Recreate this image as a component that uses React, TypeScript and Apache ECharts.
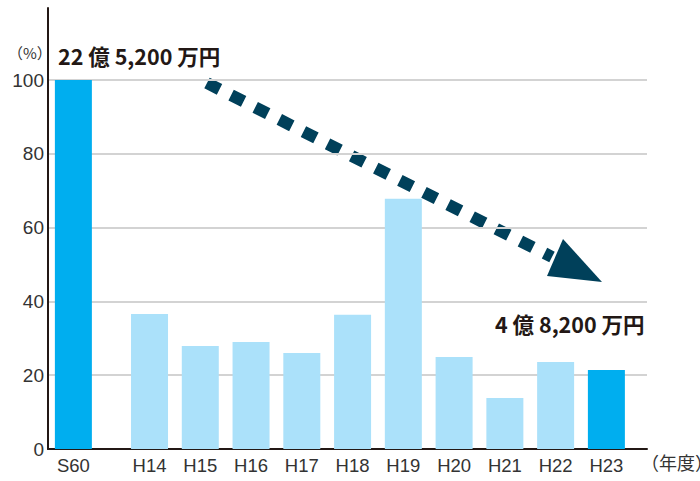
import React, { useEffect, useRef } from "react";
import * as echarts from "echarts";

const categories = ["S60", "H14", "H15", "H16", "H17", "H18", "H19", "H20", "H21", "H22", "H23"];
const values = [100, 36.6, 27.9, 29.0, 26.0, 36.4, 67.8, 24.9, 13.8, 23.6, 21.4];
const highlighted = ["S60", "H23"];
const yTicks = [0, 20, 40, 60, 80, 100];
const startLabel = "22 億 5,200 万円";
const endLabel = "4 億 8,200 万円";
const yUnit = "（%）";
const xUnit = "（年度）";

// x position of each category: S60 sits 1.5 slots before H14
const xPos = categories.map((_, i) => (i === 0 ? 0 : i + 0.5));

const FONT = "'Liberation Sans', 'Noto Sans CJK JP', sans-serif";
const JFONT = "'Noto Sans CJK JP', sans-serif";
const NAVY = "#00405a";

export default function App() {
  const ref = useRef<HTMLDivElement>(null);
  useEffect(() => {
    document.body.style.margin = "0";
    const chart = echarts.init(ref.current!, null, { renderer: "svg" });
    chart.setOption({
      animation: false,
      grid: [
        { left: 48, right: 53, top: 80, bottom: 32 },
        { left: 48, right: 53, top: 8, bottom: 32 },
      ],
      xAxis: [
        {
          type: "value",
          gridIndex: 0,
          min: -0.5,
          max: 11.3,
          interval: 0.5,
          axisLine: { show: true, onZero: false, lineStyle: { color: "#231815", width: 2 } },
          axisTick: { show: false },
          splitLine: { show: false },
          axisLabel: {
            showMaxLabel: false,
            showMinLabel: false,
            fontFamily: FONT,
            fontSize: 18.5,
            color: "#333",
            margin: 7,
            formatter: (v: number) => {
              const idx = xPos.findIndex((p) => Math.abs(p - v) < 1e-6);
              return idx >= 0 ? categories[idx] : "";
            },
          },
        },
        { type: "value", gridIndex: 1, show: false, min: 0, max: 1 },
      ],
      yAxis: [
        {
          type: "value",
          gridIndex: 0,
          min: 0,
          max: 100,
          interval: 20,
          axisLine: { show: false },
          axisTick: { show: false },
          splitLine: { show: true, lineStyle: { color: "#d3d3d3", width: 2 } },
          axisLabel: {
            fontFamily: FONT,
            fontSize: 19,
            color: "#333",
            margin: 4,
            formatter: (v: number) => (yTicks.includes(v) ? String(v) : ""),
          },
        },
        {
          type: "value",
          gridIndex: 1,
          min: 0,
          max: 1,
          axisLine: { show: true, lineStyle: { color: "#231815", width: 2 } },
          axisTick: { show: false },
          axisLabel: { show: false },
          splitLine: { show: false },
        },
      ],
      series: [
        {
          type: "bar",
          xAxisIndex: 0,
          yAxisIndex: 0,
          barWidth: 37,
          data: categories.map((c, i) => ({
            value: [xPos[i], values[i]],
            itemStyle: { color: highlighted.includes(c) ? "#00aeef" : "#abe1fa" },
          })),
        },
      ],
      graphic: [
        {
          type: "text",
          left: 8,
          top: 45,
          style: { text: yUnit, font: `15px ${JFONT}`, fill: "#333" },
        },
        {
          type: "text",
          left: 58,
          top: 45,
          style: { text: startLabel, font: `bold 21.5px ${JFONT}`, fill: "#231815" },
        },
        {
          type: "text",
          left: 495,
          top: 313,
          style: { text: endLabel, font: `bold 21.5px ${JFONT}`, fill: "#231815" },
        },
        {
          type: "text",
          left: 641,
          top: 453,
          style: { text: xUnit, font: `18px ${JFONT}`, fill: "#333" },
        },
        {
          type: "line",
          shape: { x1: 207, y1: 83, x2: 552, y2: 257 },
          style: { stroke: NAVY, lineWidth: 12, lineDash: [14, 13] },
        },
        {
          type: "polygon",
          shape: { points: [[563, 239], [547, 276], [602, 282]] },
          style: { fill: NAVY },
        },
      ],
    });
    return () => chart.dispose();
  }, []);
  return <div ref={ref} style={{ width: 700, height: 481 }} />;
}
